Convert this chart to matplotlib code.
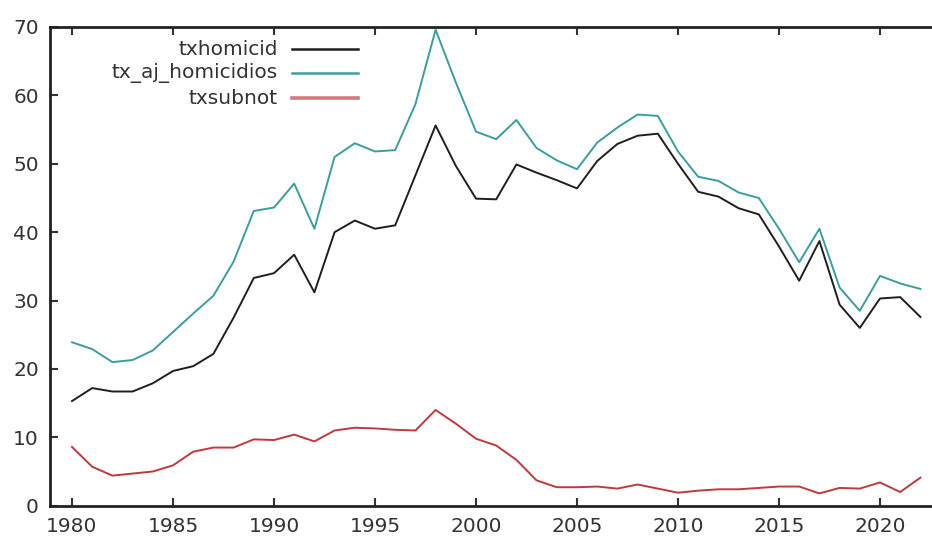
import numpy as np
import matplotlib.pyplot as plt

years = list(range(1980, 2023))

txhomicid = [15.3, 17.2, 16.7, 16.7, 17.9, 19.7, 20.4, 22.2, 27.5, 33.3,
             34.0, 36.7, 31.2, 40.0, 41.7, 40.5, 41.0, 48.3, 55.6, 49.7,
             44.9, 44.8, 49.9, 48.7, 47.6, 46.4, 50.4, 52.9, 54.1, 54.4,
             50.0, 45.9, 45.2, 43.5, 42.6, 37.9, 32.9, 38.7, 29.4, 26.0,
             30.3, 30.5, 27.6]

tx_aj_homicidios = [23.9, 22.9, 21.0, 21.3, 22.7, 25.4, 28.1, 30.7, 35.7, 43.1,
                    43.6, 47.1, 40.5, 51.0, 53.0, 51.8, 52.0, 58.7, 69.6, 61.9,
                    54.7, 53.6, 56.4, 52.3, 50.5, 49.2, 53.1, 55.3, 57.2, 57.0,
                    51.8, 48.1, 47.5, 45.8, 45.0, 40.5, 35.6, 40.5, 31.9, 28.5,
                    33.6, 32.5, 31.7]

txsubnot = [8.6, 5.7, 4.4, 4.7, 5.0, 5.9, 7.9, 8.5, 8.5, 9.7,
            9.6, 10.4, 9.4, 11.0, 11.4, 11.3, 11.1, 11.0, 14.0, 12.0,
            9.8, 8.8, 6.7, 3.7, 2.7, 2.7, 2.8, 2.5, 3.1, 2.5,
            1.9, 2.2, 2.4, 2.4, 2.6, 2.8, 2.8, 1.8, 2.6, 2.5,
            3.4, 2.0, 4.1]

names = ["txhomicid", "tx_aj_homicidios", "txsubnot"]
colors = ["#1f1f1f", "#3a9e9e", "#c0393b"]
xticks = [1980, 1985, 1990, 1995, 2000, 2005, 2010, 2015, 2020]

W, H = 932, 541
fig = plt.figure(figsize=(W / 100, H / 100), dpi=100)
ax = fig.add_axes([50 / W, (H - 505.7) / H, (W - 50) / W, (505.7 - 27) / H])

for series, name, c in zip([txhomicid, tx_aj_homicidios, txsubnot], names, colors):
    ax.plot(years, series, color=c, lw=1.4, label=name)

ax.set_xlim(1980 - 22 / 20.2, 1980 + (W - 72) / 20.2)
ax.set_ylim(0, 70)
ax.set_xticks(xticks)
ax.set_yticks(range(0, 71, 10))

for side in ["left", "bottom", "top"]:
    ax.spines[side].set_linewidth(2)
    ax.spines[side].set_color("#222222")
ax.spines["right"].set_visible(False)

ax.tick_params(direction="in", top=True, length=6, width=1.5, color="#333333",
               labelsize=14.5, labelcolor="#333333", pad=8)

# gnuplot-style key: right-aligned text, sample line on its right
key_y = [49.3, 73.3, 98]
for name, c, py in zip(names, colors, key_y):
    yy = 1 - (py - 27) / (505.7 - 27)
    ax.text((278 - 50) / (W - 50), yy, name, transform=ax.transAxes,
            ha="right", va="center", fontsize=14.5, color="#333333")
    lw = 2.6 if name == "txsubnot" else 1.8
    lc = "#d47a7c" if name == "txsubnot" else c
    ax.plot([(292 - 50) / (W - 50), (358 - 50) / (W - 50)], [yy, yy],
            transform=ax.transAxes, color=lc, lw=lw, clip_on=False)

fig.savefig("out.png", dpi=100)
